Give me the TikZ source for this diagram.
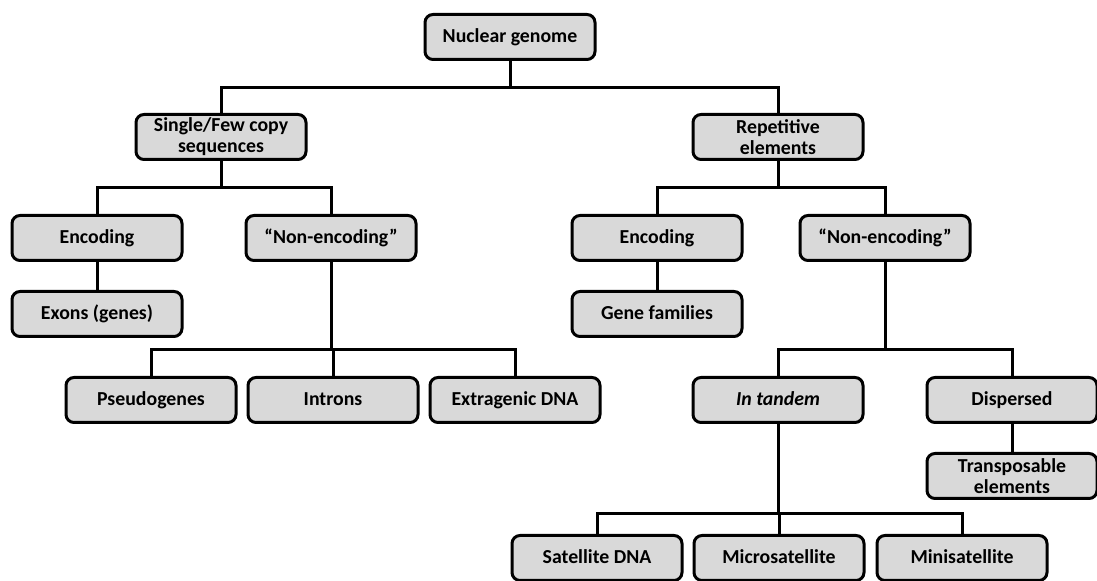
\documentclass[tikz,border=0pt]{standalone}
\usepackage{fontspec}
\setmainfont{Carlito}
\usetikzlibrary{positioning}
\definecolor{boxgray}{HTML}{D9D9D9}

\begin{document}
\begin{tikzpicture}[
    x=0.5pt, y=-0.5pt,
    box/.style={draw, fill=boxgray, line width=1.5pt, rounded corners=4pt, align=center,
      minimum width=85pt, minimum height=22.5pt, inner sep=1pt,
      text height=1.45ex, text depth=0.35ex,
      font=\fontsize{9.9}{10.6}\selectfont\bfseries},
    twobox/.style={box, text height={}, text depth={}},
    link/.style={line width=1.5pt}
  ]
    \useasboundingbox (0,0) rectangle (1097,581);

    \node[box] (nuclear) at (510,37) {Nuclear genome};
    \node[twobox] (single) at (221,137) {Single/Few copy\\sequences};
    \node[twobox] (repet) at (778,137) {Repetitive\\elements};

    \node[box] (codeA) at (97,238) {Encoding};
    \node[box] (noncodeA) at (331,238) {“Non-encoding”};
    \node[box] (codeB) at (657,238) {Encoding};
    \node[box] (noncodeB) at (885,238) {“Non-encoding”};
    \node[box, below=14pt of codeA] (exons) {Exons (genes)};
    \node[box, below=14pt of codeB] (genefam) {Gene families};

    \node[box] (pseudo) at (151,400) {Pseudogenes};
    \node[box, right=4.5pt of pseudo] (introns) {Introns};
    \node[box, right=4.5pt of introns] (extragenic) {Extragenic DNA};

    \node[box] (tandem) at (778,400) {\itshape In tandem};
    \node[box] (dispersed) at (1012,400) {Dispersed};
    \node[twobox, below=14pt of dispersed] (transpos) {Transposable\\elements};

    \node[box] (satellite) at (597,558) {Satellite DNA};
    \node[box, right=4.5pt of satellite] (micro) {Microsatellite};
    \node[box, right=5pt of micro] (mini) {Minisatellite};

    \draw[link] (nuclear.south) -- ++(0,27) -| (single.north);
    \draw[link] (nuclear.south) -- ++(0,27) -| (repet.north);
    \draw[link] (single.south) -- ++(0,27) -| (codeA.north);
    \draw[link] (single.south) -- ++(0,27) -| (noncodeA.north);
    \draw[link] (repet.south) -- ++(0,27) -| (codeB.north);
    \draw[link] (repet.south) -- ++(0,27) -| (noncodeB.north);
    \draw[link] (codeA) -- (exons);
    \draw[link] (codeB) -- (genefam);
    \draw[link] (noncodeA.south) -- ++(0,88) -| (pseudo.north);
    \draw[link] (noncodeA.south) -- ++(0,88) -| (introns.north);
    \draw[link] (noncodeA.south) -- ++(0,88) -| (extragenic.north);
    \draw[link] (noncodeB.south) -- ++(0,88) -| (tandem.north);
    \draw[link] (noncodeB.south) -- ++(0,88) -| (dispersed.north);
    \draw[link] (dispersed) -- (transpos);
    \draw[link] (tandem.south) -- ++(0,90) -| (satellite.north);
    \draw[link] (tandem.south) -- ++(0,90) -| (micro.north);
    \draw[link] (tandem.south) -- ++(0,90) -| (mini.north);
  \end{tikzpicture}
\end{document}
